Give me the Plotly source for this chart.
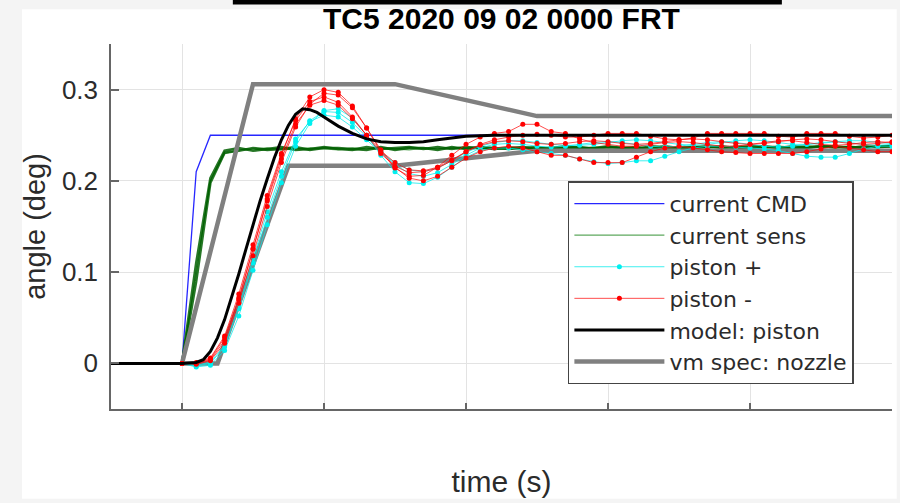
import plotly.graph_objects as go

# ---------------- data ----------------
t_cmd = [0.0, 0.01, 0.02, 0.5]
cmd = [0.0, 0.21, 0.25, 0.25]

t_s = [0.0, 0.01, 0.02, 0.03, 0.04, 0.05, 0.06, 0.07, 0.08, 0.09, 0.10, 0.11, 0.12, 0.13, 0.14, 0.15, 0.16,
       0.17, 0.18, 0.19, 0.20, 0.21, 0.22, 0.23, 0.24, 0.25, 0.26, 0.27, 0.28, 0.29, 0.30, 0.31, 0.32, 0.33,
       0.34, 0.35, 0.36, 0.37, 0.38, 0.39, 0.40, 0.41, 0.42, 0.43, 0.44, 0.45, 0.46, 0.47, 0.48, 0.49, 0.50]

sens_1 = [0.0, 0.10, 0.200, 0.230, 0.234, 0.235, 0.236, 0.234, 0.235, 0.236, 0.235, 0.234, 0.236, 0.235, 0.236,
          0.235, 0.234, 0.236, 0.235, 0.236, 0.236, 0.235, 0.236, 0.237, 0.235, 0.236, 0.237, 0.236, 0.235, 0.237,
          0.236, 0.237, 0.236, 0.237, 0.236, 0.237, 0.238, 0.236, 0.237, 0.238, 0.237, 0.236, 0.238, 0.237, 0.238,
          0.237, 0.236, 0.238, 0.237, 0.238, 0.237]
sens_2 = [0.0, 0.11, 0.203, 0.233, 0.236, 0.233, 0.235, 0.237, 0.234, 0.235, 0.237, 0.235, 0.234, 0.237, 0.235,
          0.236, 0.237, 0.235, 0.237, 0.235, 0.237, 0.236, 0.235, 0.236, 0.237, 0.235, 0.236, 0.238, 0.236, 0.236,
          0.238, 0.236, 0.237, 0.235, 0.238, 0.236, 0.237, 0.238, 0.236, 0.237, 0.238, 0.238, 0.236, 0.238, 0.237,
          0.238, 0.238, 0.236, 0.238, 0.237, 0.238]
sens_3 = [0.0, 0.09, 0.198, 0.231, 0.233, 0.236, 0.234, 0.235, 0.237, 0.234, 0.236, 0.236, 0.235, 0.234, 0.237,
          0.234, 0.236, 0.236, 0.234, 0.237, 0.235, 0.237, 0.236, 0.235, 0.236, 0.237, 0.235, 0.236, 0.237, 0.235,
          0.237, 0.236, 0.235, 0.238, 0.237, 0.235, 0.236, 0.237, 0.238, 0.236, 0.236, 0.237, 0.237, 0.236, 0.236,
          0.238, 0.237, 0.237, 0.236, 0.238, 0.238]

pist_p1 = [0.0, -0.004, -0.002, 0.014, 0.052, 0.102, 0.152, 0.198, 0.238, 0.263, 0.277, 0.279, 0.269, 0.250,
           0.228, 0.210, 0.198, 0.197, 0.204, 0.215, 0.226, 0.233, 0.236, 0.236, 0.234, 0.232, 0.230, 0.228,
           0.224, 0.221, 0.219, 0.220, 0.222, 0.222, 0.227, 0.232, 0.236, 0.238, 0.238, 0.237, 0.236, 0.235,
           0.233, 0.230, 0.227, 0.226, 0.226, 0.230, 0.235, 0.238, 0.238]
pist_p2 = [0.0, -0.003, 0.000, 0.018, 0.060, 0.110, 0.160, 0.205, 0.243, 0.266, 0.276, 0.275, 0.264, 0.248,
           0.232, 0.218, 0.208, 0.205, 0.209, 0.218, 0.228, 0.236, 0.240, 0.241, 0.240, 0.238, 0.237, 0.238,
           0.240, 0.242, 0.243, 0.242, 0.240, 0.238, 0.237, 0.238, 0.240, 0.242, 0.243, 0.242, 0.240, 0.238,
           0.237, 0.238, 0.240, 0.242, 0.243, 0.242, 0.240, 0.239, 0.240]
pist_p3 = [0.0, -0.002, 0.001, 0.020, 0.064, 0.115, 0.166, 0.210, 0.246, 0.265, 0.272, 0.270, 0.259, 0.245,
           0.231, 0.220, 0.212, 0.210, 0.214, 0.222, 0.231, 0.238, 0.242, 0.244, 0.244, 0.242, 0.240, 0.239,
           0.239, 0.240, 0.242, 0.244, 0.245, 0.244, 0.242, 0.240, 0.239, 0.240, 0.242, 0.244, 0.245, 0.244,
           0.242, 0.240, 0.240, 0.241, 0.243, 0.244, 0.244, 0.242, 0.241]

pist_m1 = [0.0, 0.000, 0.004, 0.025, 0.070, 0.125, 0.180, 0.228, 0.268, 0.292, 0.300, 0.297, 0.282, 0.258,
           0.232, 0.214, 0.205, 0.206, 0.215, 0.228, 0.240, 0.248, 0.252, 0.254, 0.262, 0.262, 0.254, 0.252,
           0.246, 0.242, 0.240, 0.238, 0.238, 0.240, 0.242, 0.243, 0.242, 0.240, 0.238, 0.238, 0.240, 0.242,
           0.244, 0.244, 0.242, 0.240, 0.239, 0.240, 0.242, 0.243, 0.242]
pist_m2 = [0.0, 0.001, 0.006, 0.030, 0.076, 0.130, 0.184, 0.230, 0.266, 0.287, 0.292, 0.286, 0.270, 0.250,
           0.230, 0.216, 0.209, 0.210, 0.214, 0.222, 0.232, 0.240, 0.245, 0.248, 0.250, 0.251, 0.250, 0.248,
           0.248, 0.250, 0.252, 0.252, 0.252, 0.249, 0.246, 0.245, 0.247, 0.252, 0.252, 0.252, 0.252, 0.252,
           0.249, 0.248, 0.252, 0.252, 0.252, 0.249, 0.247, 0.248, 0.250]
pist_m3 = [0.0, -0.001, 0.003, 0.022, 0.066, 0.118, 0.172, 0.220, 0.259, 0.284, 0.296, 0.294, 0.280, 0.258,
           0.234, 0.215, 0.203, 0.200, 0.205, 0.215, 0.225, 0.232, 0.236, 0.238, 0.236, 0.232, 0.228, 0.228,
           0.224, 0.220, 0.220, 0.220, 0.226, 0.232, 0.236, 0.238, 0.236, 0.234, 0.232, 0.231, 0.230, 0.230,
           0.230, 0.230, 0.232, 0.235, 0.238, 0.236, 0.234, 0.232, 0.232]
pist_m4 = [0.0, 0.000, 0.005, 0.028, 0.072, 0.126, 0.178, 0.224, 0.262, 0.283, 0.288, 0.283, 0.268, 0.250,
           0.233, 0.220, 0.212, 0.211, 0.215, 0.223, 0.232, 0.239, 0.243, 0.244, 0.243, 0.241, 0.240, 0.241,
           0.243, 0.244, 0.243, 0.241, 0.240, 0.241, 0.243, 0.245, 0.246, 0.245, 0.243, 0.241, 0.240, 0.241,
           0.243, 0.245, 0.246, 0.245, 0.243, 0.241, 0.240, 0.241, 0.243]

t_model = [-0.05, 0.0, 0.01, 0.015, 0.02, 0.025, 0.03, 0.035, 0.04, 0.045, 0.05, 0.055, 0.06, 0.065, 0.07,
           0.075, 0.08, 0.085, 0.09, 0.095, 0.10, 0.105, 0.11, 0.12, 0.13, 0.14, 0.15, 0.16, 0.17, 0.18, 0.19,
           0.20, 0.22, 0.5]
model = [0.0, 0.0, 0.001, 0.004, 0.013, 0.028, 0.048, 0.072, 0.098, 0.125, 0.152, 0.178, 0.202, 0.225, 0.245,
         0.261, 0.273, 0.279, 0.278, 0.275, 0.270, 0.265, 0.260, 0.252, 0.246, 0.243, 0.242, 0.242, 0.243,
         0.245, 0.247, 0.249, 0.250, 0.250]

t_spec = [0.0, 0.05, 0.15, 0.25, 0.5, None, 0.0, 0.025, 0.075, 0.15, 0.25, 0.5]
spec = [0.0, 0.306, 0.306, 0.271, 0.271, None, 0.0, 0.0, 0.2165, 0.2165, 0.233, 0.233]

y_ticks = [0, 0.1, 0.2, 0.3]
y_tick_labels = ["0", "0.1", "0.2", "0.3"]
x_ticks = [0, 0.1, 0.2, 0.3, 0.4, 0.5]

FONT = "Liberation Sans, Arial, sans-serif"
LFONT = "DejaVu Sans, Liberation Sans, sans-serif"
TXT = "#2b2b2b"

fig = go.Figure()

fig.add_trace(go.Scatter(x=t_cmd, y=cmd, mode="lines", name="current CMD", legendrank=1,
                         line=dict(color="rgba(0,0,255,0.85)", width=1.3)))
for i, s in enumerate([sens_1, sens_2, sens_3]):
    first = (i == 0)
    fig.add_trace(go.Scatter(x=t_s, y=s, mode="lines", name="current sens", legendgroup="sens",
                             showlegend=first, legendrank=2,
                             line=dict(color="rgba(40,140,40,0.75)" if first else "rgba(0,95,0,0.85)",
                                       width=1.3 if first else 2.6)))
fig.add_trace(go.Scatter(x=t_spec, y=spec, mode="lines", name="vm spec: nozzle", legendrank=6,
                         line=dict(color="rgb(128,128,128)", width=4.5)))
for i, s in enumerate([pist_p1, pist_p2, pist_p3]):
    fig.add_trace(go.Scatter(x=t_s, y=s, mode="lines+markers", name="piston +", legendgroup="pp",
                             showlegend=(i == 0), legendrank=3,
                             line=dict(color="rgba(0,235,235,0.75)", width=1),
                             marker=dict(color="rgb(0,240,240)", size=5)))
for i, s in enumerate([pist_m1, pist_m2, pist_m3, pist_m4]):
    fig.add_trace(go.Scatter(x=t_s, y=s, mode="lines+markers", name="piston -", legendgroup="pm",
                             showlegend=(i == 0), legendrank=4,
                             line=dict(color="rgba(255,0,0,0.7)", width=1),
                             marker=dict(color="rgb(255,0,0)", size=5)))
fig.add_trace(go.Scatter(x=t_model, y=model, mode="lines", name="model: piston", legendrank=5,
                         line=dict(color="black", width=3)))

fig.update_layout(
    width=900, height=503,
    margin=dict(l=111, r=8, t=44, b=94),
    paper_bgcolor="#f4f4f4",
    plot_bgcolor="white",
    font=dict(family=FONT, color=TXT, size=23),
    title=dict(text="<b>TC5 2020 09 02 0000 FRT</b>", x=0.5, xref="paper", xanchor="center",
               y=1 - 18 / 503, yanchor="middle", font=dict(size=30, color="black", family=FONT)),
    showlegend=True,
    legend=dict(x=0.585, y=0.624, xanchor="left", yanchor="top", bgcolor="white",
                bordercolor="#444", borderwidth=1.5, font=dict(size=22, color=TXT, family=LFONT),
                itemwidth=90, tracegroupgap=0, traceorder="normal"),
    shapes=[
        dict(type="rect", xref="paper", yref="paper", x0=-0.114, x1=1.006, y0=-0.246, y1=1.095,
             fillcolor="white", line=dict(width=0), layer="below"),
        dict(type="rect", xref="paper", yref="paper", x0=0.156, x1=0.859, y0=1.1085, y1=1.13,
             fillcolor="black", line=dict(width=0), layer="above"),
    ],
)

fig.update_xaxes(range=[-0.05, 0.5], tickvals=x_ticks, showticklabels=False, ticks="inside", ticklen=6,
                 tickcolor="#666", tickwidth=1.5, showline=True, linecolor="#666", linewidth=1.5,
                 showgrid=True, gridcolor="#e3e3e3", gridwidth=1, zeroline=False,
                 title=dict(text="time (s)", standoff=61, font=dict(size=30, color=TXT)))
fig.update_yaxes(range=[-0.05, 0.35], tickvals=y_ticks, ticktext=y_tick_labels, ticks="inside", ticklen=8,
                 tickcolor="#666", tickwidth=1.5, showline=True, linecolor="#666", linewidth=1.5,
                 showgrid=True, gridcolor="#e3e3e3", gridwidth=1, zeroline=False,
                 tickfont=dict(size=26, color=TXT), ticklabelstandoff=6,
                 title=dict(text="angle (deg)", standoff=8, font=dict(size=29, color=TXT)))

fig.write_html("out.html")
